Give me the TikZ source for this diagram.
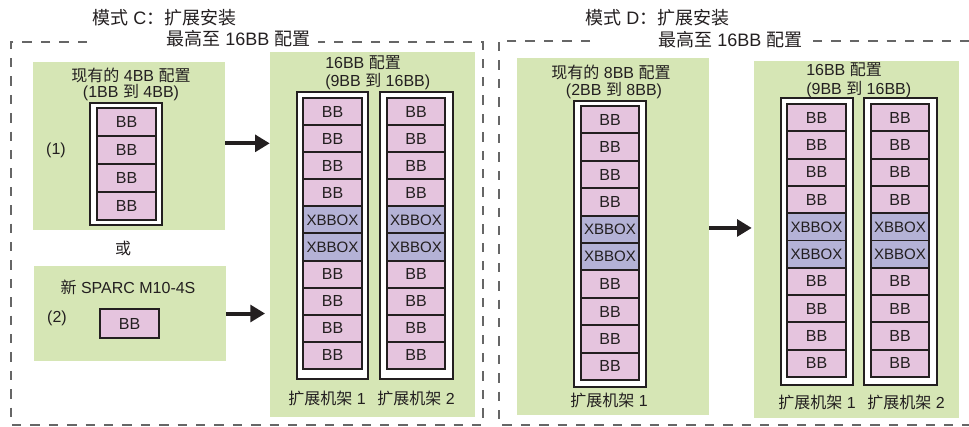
\documentclass[tikz,border=0pt]{standalone}
\usepackage{fontspec}
\setmainfont{Liberation Sans}
\newfontfamily\cjk{Noto Sans CJK SC}
\newcommand{\zhs}[1]{{\cjk #1}}
\usetikzlibrary{arrows.meta, fit}
\definecolor{panelgreen}{RGB}{214,230,181}
\definecolor{bbpink}{RGB}{229,196,222}
\definecolor{xbblue}{RGB}{180,178,214}
\definecolor{framegray}{RGB}{102,102,102}
\definecolor{ink}{RGB}{35,31,32}

\tikzset{
  panel/.style={fill=panelgreen, inner sep=0pt},
  rackframe/.style={draw=ink, line width=2pt, fill=white, inner sep=0pt},
  cell/.style={draw=ink, line width=1.4pt, minimum width=43.9pt, minimum height=20.5pt,
    inner sep=0pt, font=\fontsize{12}{14}\selectfont, text=ink},
  bbcell/.style={cell, fill=bbpink},
  xbcell/.style={cell, fill=xbblue, font=\fontsize{11.3}{14}\selectfont},
  txt/.style={font=\fontsize{12}{14}\selectfont, text=ink, inner sep=0pt},
  headtxt/.style={font=\fontsize{13.5}{16}\selectfont, text=ink, inner sep=0pt},
  bigarrow/.style={line width=3pt, ink, -{Triangle[length=11pt, width=12.5pt]}},
  modeframe/.style={draw=framegray, line width=2.1pt, dash pattern=on 7pt off 6.8pt},
}

\begin{document}
\begin{tikzpicture}[x=0.75pt, y=-0.75pt]
\useasboundingbox (0,0) rectangle (969,426);
% dashed frames of the two modes
\draw[modeframe] (87,42) -- (11,42) -- (11,425) -- (483,425) -- (483,42) -- (318,42);
\draw[modeframe] (590,41) -- (499,41) -- (499,425) -- (985,425);
\draw[modeframe] (813,41) -- (985,41);
% titles
\node[headtxt, anchor=west] (modec) at (92,18) {\zhs{模式} C\zhs{：扩展安装}};
\node[headtxt, anchor=west] (modecb) at (166,39) {\zhs{最高至} 16BB \zhs{配置}};
\node[headtxt, anchor=west] (moded) at (585,18) {\zhs{模式} D\zhs{：扩展安装}};
\node[headtxt, anchor=west] (modedb) at (658,40) {\zhs{最高至} 16BB \zhs{配置}};
% green panels
\node[panel, fit={(33,62)(225,230)}] (cur4) {};
\node[panel, fit={(34,266)(226,361)}] (newm) {};
\node[panel, fit={(270,52)(475,417)}] (fullc) {};
\node[panel, fit={(517,58)(709,415)}] (cur8) {};
\node[panel, fit={(754,61)(959,418)}] (fulld) {};
% expansion rack frames
\node[rackframe, fit={(90,103)(162,225)}] (rk4) {};
\node[rackframe, fit={(297,92)(368,379)}] (rkca) {};
\node[rackframe, fit={(380,92)(453,379)}] (rkcb) {};
\node[rackframe, fit={(574,101)(646,387)}] (rk8) {};
\node[rackframe, fit={(781,98)(853,385)}] (rkda) {};
\node[rackframe, fit={(864,98)(937,385)}] (rkdb) {};
% mode C: existing 4BB and new SPARC M10-4S
\foreach \i in {1,...,4}
  \node[bbcell, minimum height=21pt] (c4\i) at (126.5,{94+28*\i}) {BB};
\node[bbcell, minimum height=21.75pt] (newbb) at (129.5,323.5) {BB};
\node[txt] (cur4a) at (131,75) {\zhs{现有的} 4BB \zhs{配置}};
\node[txt] (cur4b) at (131,93) {(1BB \zhs{到} 4BB)};
\node[txt] (numa) at (56,150) {(1)};
\node[txt] (orr) at (123,248) {\zhs{或}};
\node[txt] (newa) at (128,287) {\zhs{新} SPARC M10-4S};
\node[txt] (numb) at (57,318) {(2)};
% mode C: 16BB in two racks
\foreach \x/\r in {332.5/ca,416/cb} {
  \foreach \i in {1,...,4,7,8,9,10}
    \node[bbcell] (\r\i) at (\x,{84.45+27.1*\i}) {BB};
  \foreach \i in {5,6}
    \node[xbcell] (\r\i) at (\x,{84.45+27.1*\i}) {XBBOX};
}
\node[txt, anchor=west] (fullca) at (325,63) {16BB \zhs{配置}};
\node[txt, anchor=west] (fullcb) at (325,82) {(9BB \zhs{到} 16BB)};
\node[txt] (rkcal) at (327,398) {\zhs{扩展机架} 1};
\node[txt] (rkcbl) at (416,398) {\zhs{扩展机架} 2};
% mode D: existing 8BB in one rack
\foreach \i in {1,...,4,7,8,9,10}
  \node[bbcell] (e\i) at (610,{92.3+27.4*\i}) {BB};
\foreach \i in {5,6}
  \node[xbcell] (e\i) at (610,{92.3+27.4*\i}) {XBBOX};
\node[txt] (cur8a) at (611,72) {\zhs{现有的} 8BB \zhs{配置}};
\node[txt] (cur8b) at (614,91) {(2BB \zhs{到} 8BB)};
\node[txt] (rk8l) at (609,400) {\zhs{扩展机架} 1};
% mode D: 16BB in two racks
\foreach \x/\r in {816.5/da,900/db} {
  \foreach \i in {1,...,4,7,8,9,10}
    \node[bbcell] (\r\i) at (\x,{90.35+27.3*\i}) {BB};
  \foreach \i in {5,6}
    \node[xbcell] (\r\i) at (\x,{90.35+27.3*\i}) {XBBOX};
}
\node[txt, anchor=west] (fullda) at (806,70) {16BB \zhs{配置}};
\node[txt, anchor=west] (fulldb) at (806,90) {(9BB \zhs{到} 16BB)};
\node[txt] (rkdal) at (817,402) {\zhs{扩展机架} 1};
\node[txt] (rkdbl) at (906,402) {\zhs{扩展机架} 2};
% expansion arrows
\draw[bigarrow] ([yshift=2pt]cur4.east) -- ([yshift=2pt]cur4.east -| fullc.west);
\draw[bigarrow, shorten >=3.5pt] (newm.east) -- (newm.east -| fullc.west);
\draw[bigarrow, shorten >=1.5pt] ([yshift=6.4pt]cur8.east) -- ([yshift=6.4pt]cur8.east -| fulld.west);
\end{tikzpicture}
\end{document}
